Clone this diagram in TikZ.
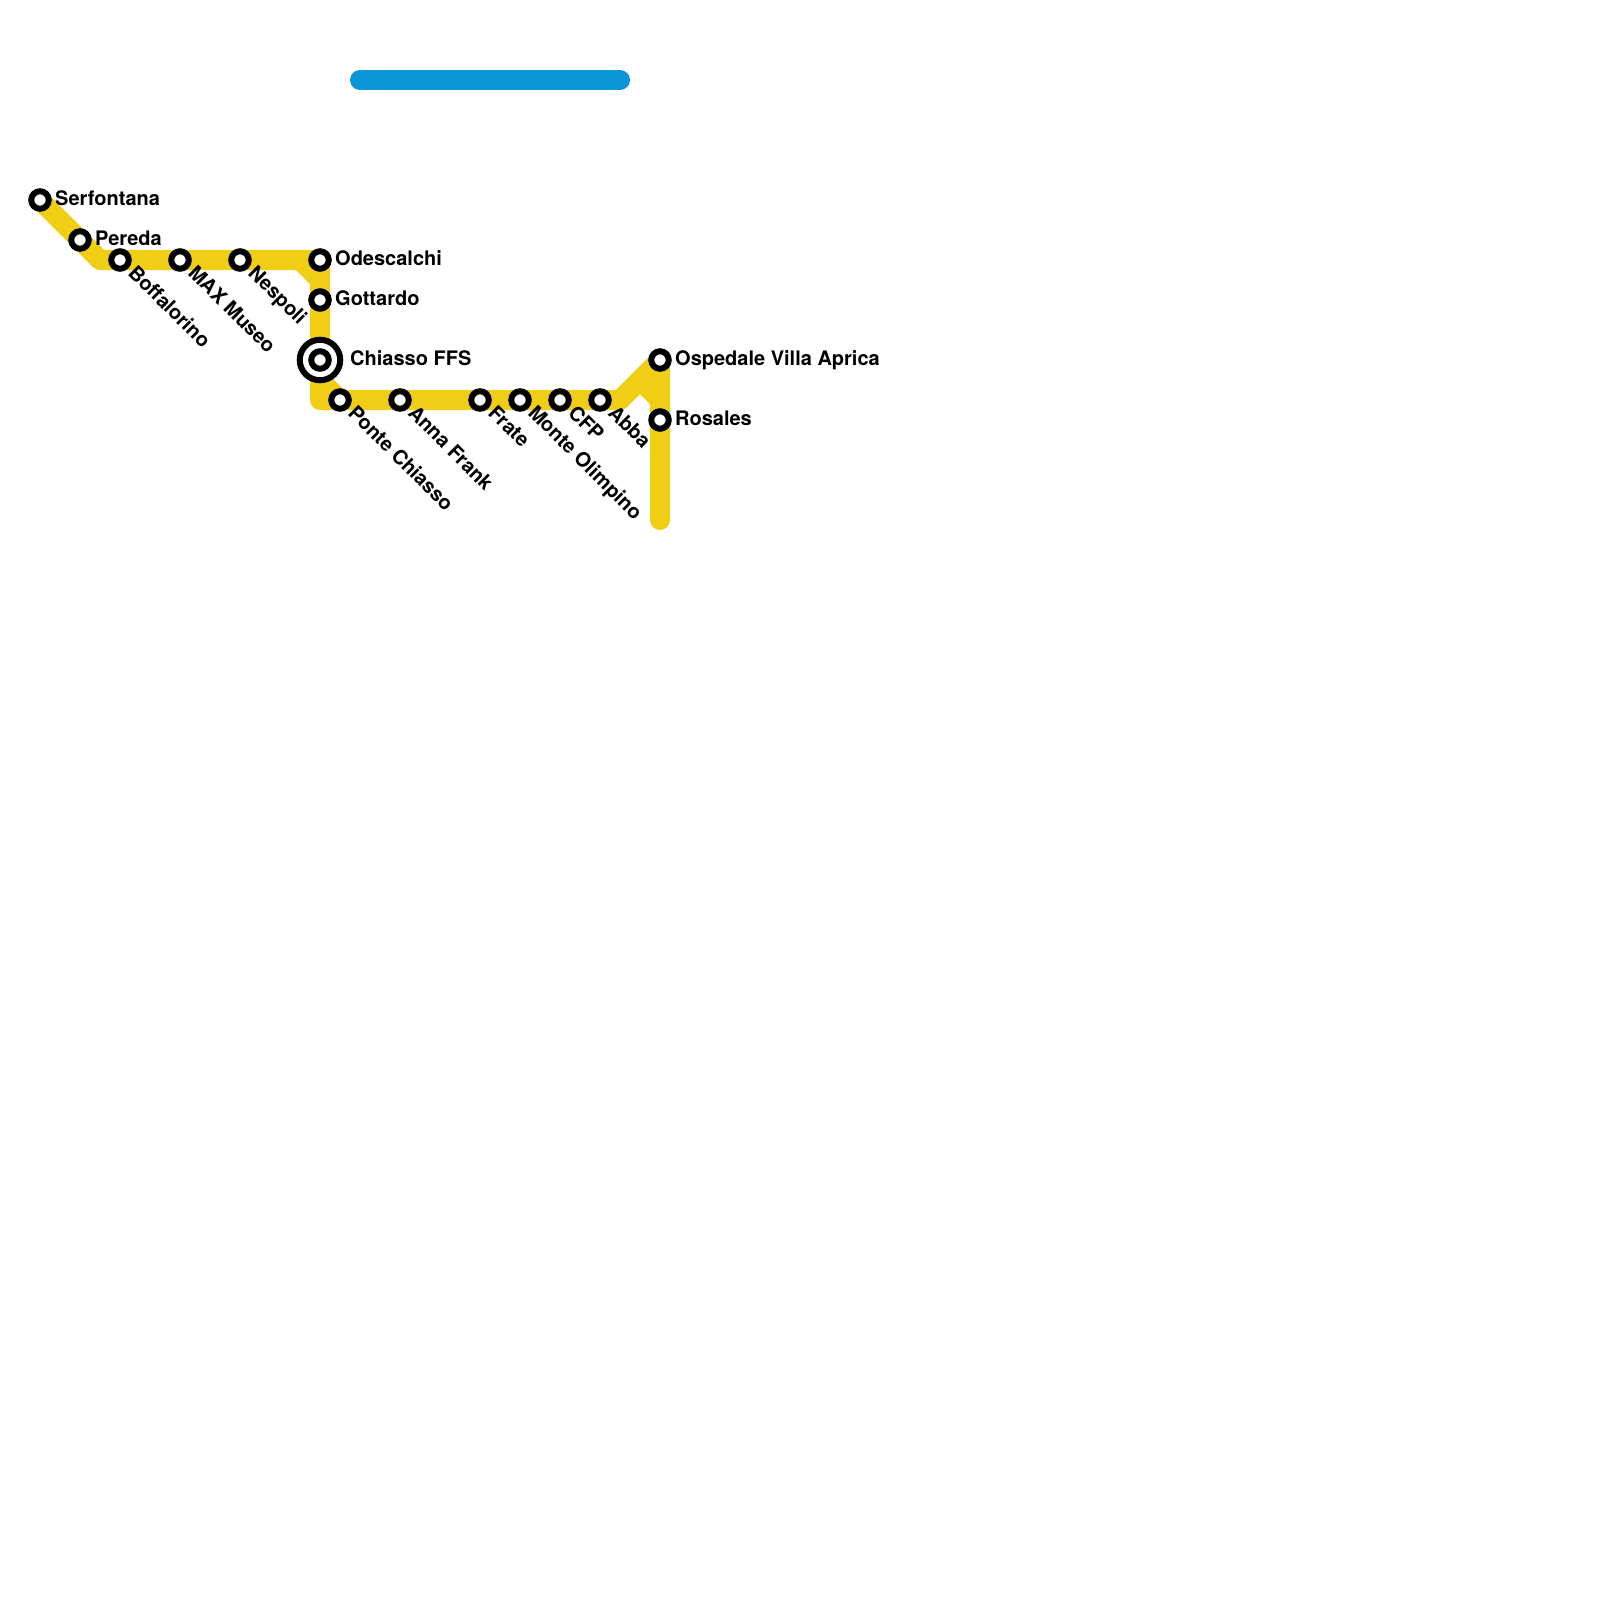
\documentclass[tikz,border=0pt]{standalone}
\usepackage{fontspec}
\setmainfont{TeX Gyre Heros}
\definecolor{lineyellow}{HTML}{F0CE15}
\definecolor{lineblue}{HTML}{0A96D8}
\tikzset{
  x=1pt,y=-1pt,
  metro/.style={line width=20pt,line cap=round,line join=round},
  stn/.style={circle,draw=black,fill=white,line width=6pt,outer sep=0pt,minimum size=17.5pt,inner sep=0pt},
  hub/.style={circle,draw=black,fill=white,line width=6pt,outer sep=0pt,minimum size=40.5pt,inner sep=0pt},
  lab/.style={font=\bfseries\fontsize{20}{24}\selectfont,text=black,inner sep=0pt},
  labr/.style={lab,anchor=base west},
  labd/.style={lab,anchor=base west,rotate=-45}
}
\begin{document}
\begin{tikzpicture}
\useasboundingbox (0,0) rectangle (1600,1600);
\fill[white] (0,0) rectangle (1600,1600);
% bends and free ends
\coordinate (b1) at (100,260);
\coordinate (b2) at (300,260);
\coordinate (b3) at (320,280);
\coordinate (b4) at (320,380);
\coordinate (b5) at (320,400);
\coordinate (b6) at (340,400);
\coordinate (b7) at (620,400);
\coordinate (b8) at (640,380);
\coordinate (b9) at (660,400);
\coordinate (e1) at (660,520);
\coordinate (c1) at (360,80);
\coordinate (c2) at (620,80);
% station positions
\coordinate (pSerfontana) at (40,200);
\coordinate (pOdescalchi) at (320,260);
\coordinate (pOspedale) at (660,360);
% lines
\draw[metro,lineblue] (c1) -- (c2);
\draw[metro,lineyellow] (pSerfontana) -- (b1) -- (pOdescalchi) -- (b5) -- (b7) -- (pOspedale) -- (e1);
\draw[metro,lineyellow] (b2) -- (b3);
\draw[metro,lineyellow] (b4) -- (b6);
\draw[metro,lineyellow] (b8) -- (b9);
% stations
\node[stn] (serfontana) at (pSerfontana) {};
\node[stn] (pereda) at (80,240) {};
\node[stn] (boffalorino) at (120,260) {};
\node[stn] (maxmuseo) at (180,260) {};
\node[stn] (nespoli) at (240,260) {};
\node[stn] (odescalchi) at (pOdescalchi) {};
\node[stn] (gottardo) at (320,300) {};
\node[hub] (chiassoring) at (320,360) {};
\node[stn] (chiasso) at (320,360) {};
\node[stn] (ponte) at (340,400) {};
\node[stn] (anna) at (400,400) {};
\node[stn] (frate) at (480,400) {};
\node[stn] (monte) at (520,400) {};
\node[stn] (cfp) at (560,400) {};
\node[stn] (abba) at (600,400) {};
\node[stn] (ospedale) at (pOspedale) {};
\node[stn] (rosales) at (660,420) {};
% labels
\node[labr] (lserfontana) at (55,205) {Serfontana};
\node[labr] (lpereda) at (95,245) {Pereda};
\node[labr] (lodescalchi) at (335,265) {Odescalchi};
\node[labr] (lgottardo) at (335,305) {Gottardo};
\node[labr] (lchiasso) at (350,365) {Chiasso FFS};
\node[labr] (lospedale) at (675,365) {Ospedale Villa Aprica};
\node[labr] (lrosales) at (675,425) {Rosales};
\node[labd] (lboffalorino) at (127,274) {Boffalorino};
\node[labd] (lmax) at (187,274) {MAX Museo};
\node[labd] (lnespoli) at (247,274) {Nespoli};
\node[labd] (lponte) at (347,414) {Ponte Chiasso};
\node[labd] (lanna) at (407,414) {Anna Frank};
\node[labd] (lfrate) at (487,414) {Frate};
\node[labd] (lmonte) at (527,414) {Monte Olimpino};
\node[labd] (lcfp) at (567,414) {CFP};
\node[labd] (labba) at (607,414) {Abba};
\end{tikzpicture}
\end{document}
